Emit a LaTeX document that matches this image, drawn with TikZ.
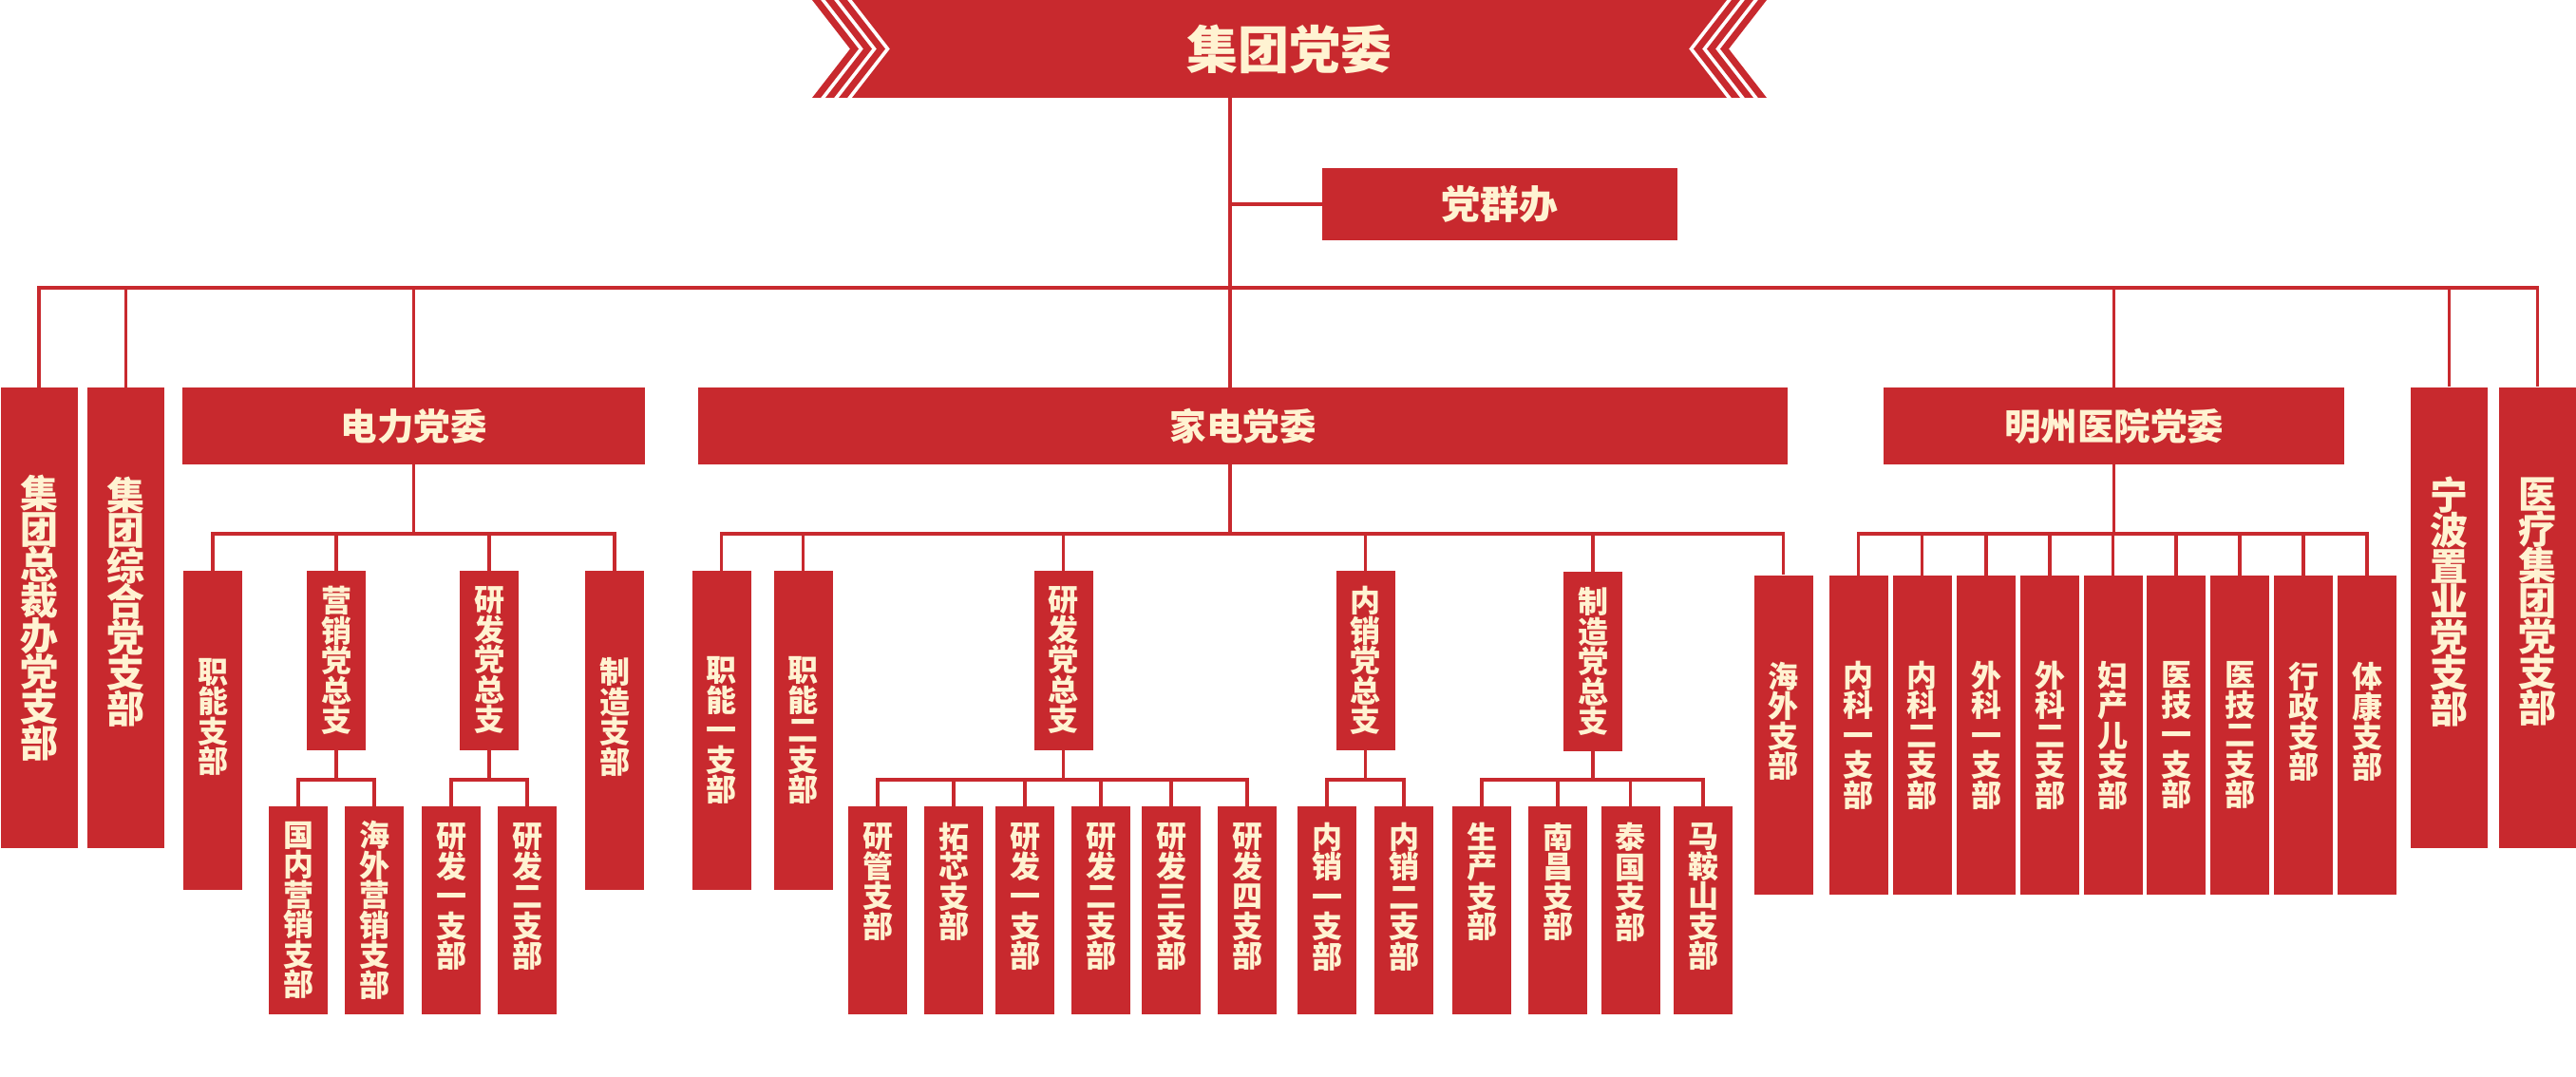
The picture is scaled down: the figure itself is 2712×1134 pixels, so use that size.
\documentclass[tikz,border=0pt]{standalone}
\usepackage{fontspec}
\newfontfamily\cjk{Noto Sans CJK SC}
\definecolor{partyred}{HTML}{C8292E}
\definecolor{cream}{HTML}{FFF3D2}

\begin{document}
\begin{tikzpicture}[x=1pt, y=-1pt,
    link/.style={draw=partyred, line width=3.5pt},
    unit/.style={fill=partyred, text=cream, inner sep=0pt, align=center},
    headbox/.style={unit, minimum height=81pt, font={\cjk\bfseries\fontsize{38.5}{42}\selectfont}},
    tallbox/.style={unit, minimum width=81pt, minimum height=485pt, font={\cjk\bfseries\fontsize{40}{37.5}\selectfont\lineskiplimit=-40pt}},
    longbr/.style={unit, minimum width=62pt, minimum height=336pt, font={\cjk\bfseries\fontsize{32}{31.5}\selectfont\lineskiplimit=-40pt}},
    midbr/.style={longbr, minimum height=189pt},
    lowbr/.style={longbr, minimum height=219pt}]
    \fill[white] (0,0) rectangle (2712,1134);
    \useasboundingbox (0,0) rectangle (2712,1134);

    % banner with chevron ends
    \fill[partyred] (897,0) -- (1818,0) -- (1778,51.5) -- (1818,103) -- (897,103) -- (937,51.5) -- cycle;
    \foreach \s in {883,869,855}
        \fill[partyred] (\s,0) -- ++(40,51.5) -- ++(-40,51.5) -- ++(9,0) -- ++(40,-51.5) -- ++(-40,-51.5) -- cycle;
    \foreach \s in {1832,1846,1860}
        \fill[partyred] (\s,0) -- ++(-40,51.5) -- ++(40,51.5) -- ++(-9,0) -- ++(-40,-51.5) -- ++(40,-51.5) -- cycle;
    \node[text=cream, inner sep=0pt, minimum width=921pt, minimum height=103pt,
          font={\cjk\bfseries\fontsize{54}{58}\selectfont}] (top) at (1357.5,51.5) {集团党委};

    \coordinate (trunk) at (1295,0);
    \coordinate (bus1) at (0,303);
    \coordinate (bus2) at (0,562);
    \coordinate (bus3) at (0,821);

    \node[headbox, minimum width=374pt, minimum height=76pt, font={\cjk\bfseries\fontsize{41}{44}\selectfont}] (qunban) at (1579,215) {党群办};

    % first level
    \node[tallbox] (zongcai) at (41,650.5) {集\\团\\总\\裁\\办\\党\\支\\部};
    \node[tallbox] (zonghe) at (132.5,650.5) {集\\团\\综\\合\\党\\支\\部\\~};
    \node[headbox, minimum width=487pt] (dianli) at (435.5,448.5) {电力党委};
    \node[headbox, minimum width=1147pt] (jiadian) at (1308.5,448.5) {家电党委};
    \node[headbox, minimum width=485pt] (mingzhou) at (2225.5,448.5) {明州医院党委};
    \node[tallbox] (ningbo) at (2578.5,650) {宁\\波\\置\\业\\党\\支\\部\\~};
    \node[tallbox] (yiliao) at (2671.5,650) {医\\疗\\集\\团\\党\\支\\部\\~};

    \draw[link] (top.south -| trunk) -- (jiadian.north -| trunk);
    \draw[link] (trunk |- qunban.west) -- (qunban.west);
    \draw[link] (zongcai.north) |- (yiliao.north |- bus1) -- (yiliao.north);
    \foreach \n in {zonghe, dianli, mingzhou, ningbo}
        \draw[link] (\n.north) -- (\n.north |- bus1);

    % dianli
    \node[longbr] (dlZhineng) at (224,769) {职\\能\\支\\部\\~};
    \node[midbr] (dlYingxiao) at (354,695.5) {营\\销\\党\\总\\支};
    \node[midbr] (dlYanfa) at (515,695.5) {研\\发\\党\\总\\支};
    \node[longbr] (dlZhizao) at (647,769) {制\\造\\支\\部\\~};
    \node[lowbr] (dlGuonei) at (314,958.5) {国\\内\\营\\销\\支\\部};
    \node[lowbr] (dlHaiwai) at (394,958.5) {海\\外\\营\\销\\支\\部};
    \node[lowbr] (dlYanfa1) at (475,958.5) {研\\发\\一\\支\\部\\~};
    \node[lowbr] (dlYanfa2) at (555,958.5) {研\\发\\二\\支\\部\\~};

    \draw[link] (dianli.south) -- (dianli.south |- bus2);
    \draw[link] (dlZhineng.north) |- (dlZhizao.north |- bus2) -- (dlZhizao.north);
    \foreach \n in {dlYingxiao, dlYanfa}
        \draw[link] (\n.north) -- (\n.north |- bus2);
    \draw[link] (dlYingxiao.south) -- (dlYingxiao.south |- bus3);
    \draw[link] (dlGuonei.north) |- (dlHaiwai.north |- bus3) -- (dlHaiwai.north);
    \draw[link] (dlYanfa.south) -- (dlYanfa.south |- bus3);
    \draw[link] (dlYanfa1.north) |- (dlYanfa2.north |- bus3) -- (dlYanfa2.north);

    % jiadian
    \node[longbr] (jdZhineng1) at (759.5,769) {职\\能\\一\\支\\部};
    \node[longbr] (jdZhineng2) at (845.5,769) {职\\能\\二\\支\\部};
    \node[midbr] (jdYanfa) at (1119.5,695.5) {研\\发\\党\\总\\支};
    \node[midbr] (jdNeixiao) at (1437.5,695.5) {内\\销\\党\\总\\支};
    \node[midbr] (jdZhizao) at (1677,696.5) {制\\造\\党\\总\\支};
    \node[longbr] (jdHaiwai) at (1877.5,773.5) {海\\外\\支\\部\\~};
    \node[lowbr] (jdYanguan) at (924,958.5) {研\\管\\支\\部\\~\\~};
    \node[lowbr] (jdTuoxin) at (1004,958.5) {拓\\芯\\支\\部\\~\\~};
    \node[lowbr] (jdYanfa1) at (1079,958.5) {研\\发\\一\\支\\部\\~};
    \node[lowbr] (jdYanfa2) at (1159,958.5) {研\\发\\二\\支\\部\\~};
    \node[lowbr] (jdYanfa3) at (1233,958.5) {研\\发\\三\\支\\部\\~};
    \node[lowbr] (jdYanfa4) at (1313,958.5) {研\\发\\四\\支\\部\\~};
    \node[lowbr] (jdNeixiao1) at (1397,958.5) {内\\销\\一\\支\\部\\~};
    \node[lowbr] (jdNeixiao2) at (1478,958.5) {内\\销\\二\\支\\部\\~};
    \node[lowbr] (jdShengchan) at (1560,958.5) {生\\产\\支\\部\\~\\~};
    \node[lowbr] (jdNanchang) at (1640,958.5) {南\\昌\\支\\部\\~\\~};
    \node[lowbr] (jdTaiguo) at (1716.5,958.5) {泰\\国\\支\\部\\~\\~};
    \node[lowbr] (jdMaanshan) at (1793,958.5) {马\\鞍\\山\\支\\部\\~};

    \draw[link] (jiadian.south -| trunk) -- (trunk |- bus2);
    \draw[link] (jdZhineng1.north) |- (jdHaiwai.north |- bus2) -- (jdHaiwai.north);
    \foreach \n in {jdZhineng2, jdYanfa, jdNeixiao, jdZhizao}
        \draw[link] (\n.north) -- (\n.north |- bus2);
    \draw[link] (jdYanfa.south) -- (jdYanfa.south |- bus3);
    \draw[link] (jdYanguan.north) |- (jdYanfa4.north |- bus3) -- (jdYanfa4.north);
    \foreach \n in {jdTuoxin, jdYanfa1, jdYanfa2, jdYanfa3}
        \draw[link] (\n.north) -- (\n.north |- bus3);
    \draw[link] (jdNeixiao.south) -- (jdNeixiao.south |- bus3);
    \draw[link] (jdNeixiao1.north) |- (jdNeixiao2.north |- bus3) -- (jdNeixiao2.north);
    \draw[link] (jdZhizao.south) -- (jdZhizao.south |- bus3);
    \draw[link] (jdShengchan.north) |- (jdMaanshan.north |- bus3) -- (jdMaanshan.north);
    \foreach \n in {jdNanchang, jdTaiguo}
        \draw[link] (\n.north) -- (\n.north |- bus3);

    % mingzhou
    \node[longbr] (mzNeike1) at (1956.5,774) {内\\科\\一\\支\\部};
    \node[longbr] (mzNeike2) at (2023.5,774) {内\\科\\二\\支\\部};
    \node[longbr] (mzWaike1) at (2091,774) {外\\科\\一\\支\\部};
    \node[longbr] (mzWaike2) at (2158,774) {外\\科\\二\\支\\部};
    \node[longbr] (mzFuchan) at (2224.5,774) {妇\\产\\儿\\支\\部};
    \node[longbr] (mzYiji1) at (2291,774) {医\\技\\一\\支\\部};
    \node[longbr] (mzYiji2) at (2358,774) {医\\技\\二\\支\\部};
    \node[longbr] (mzXingzheng) at (2425,774) {行\\政\\支\\部\\~};
    \node[longbr] (mzTikang) at (2492,774) {体\\康\\支\\部\\~};

    \draw[link] (mingzhou.south) -- (mingzhou.south |- bus2);
    \draw[link] (mzNeike1.north) |- (mzTikang.north |- bus2) -- (mzTikang.north);
    \foreach \n in {mzNeike2, mzWaike1, mzWaike2, mzFuchan, mzYiji1, mzYiji2, mzXingzheng}
        \draw[link] (\n.north) -- (\n.north |- bus2);
\end{tikzpicture}
\end{document}
